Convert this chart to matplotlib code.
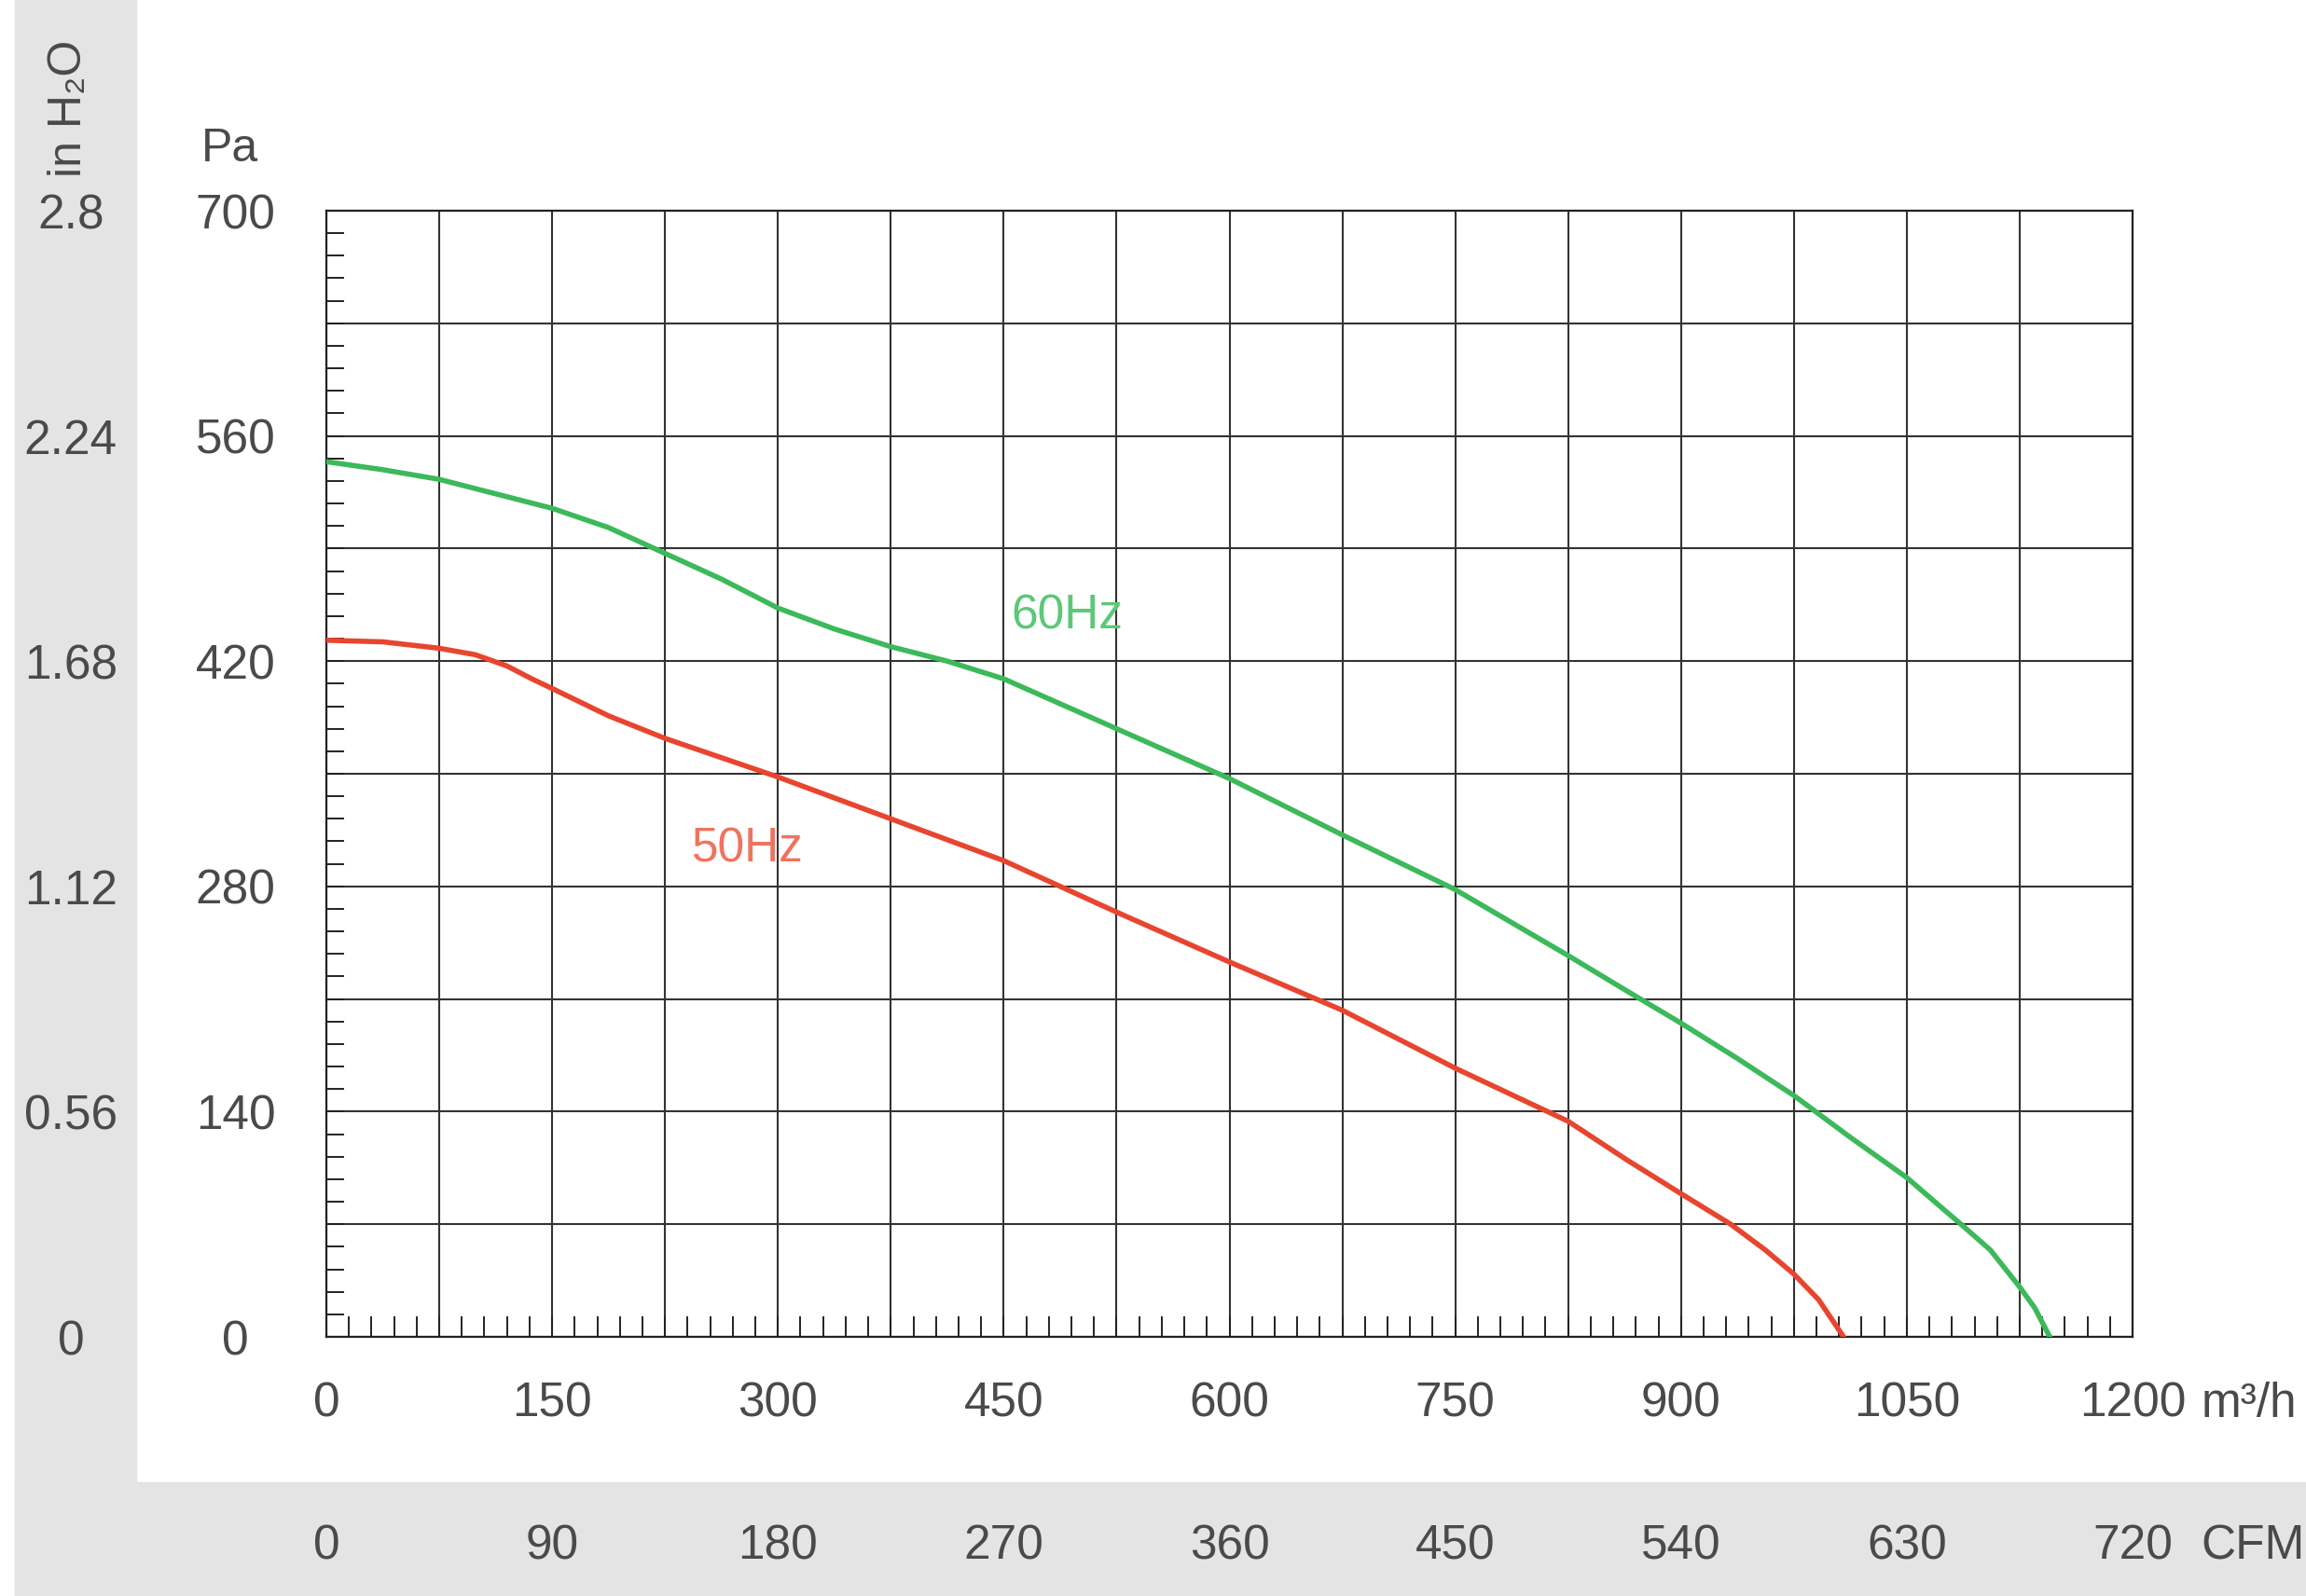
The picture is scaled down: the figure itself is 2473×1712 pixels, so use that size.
import matplotlib
matplotlib.use("Agg")
import matplotlib.pyplot as plt
from matplotlib.patches import Rectangle

# values (m3/h, Pa)
flow_60 = [0, 37.5, 75, 112.5, 150, 187.5, 225, 262.5, 300, 337.5, 375, 412.5, 450, 525, 600,
           675, 750, 825, 864, 900, 937.5, 975, 1012.5, 1050, 1071, 1086, 1105.5, 1125, 1135, 1145]
pa_60 = [544, 539, 533, 524, 515, 503, 487, 471, 453, 440, 429, 420, 409, 378, 347,
         312, 278, 237, 215, 195, 173, 150, 124, 99, 82, 70, 54, 31, 18, 0]
flow_50 = [0, 37.5, 75, 99, 120, 136.5, 150, 187.5, 225, 262.5, 300, 375, 450, 525, 600,
           675, 750, 825, 864, 900, 933, 956, 975, 991.5, 1008]
pa_50 = [433, 432, 428, 424, 417, 409, 403, 386, 372, 360, 348, 322, 296, 264, 233,
         203, 167, 134, 110, 89, 70, 54, 39, 23, 0]

x_grid = list(range(0, 1201, 75))
x_labels = [str(v) if v % 150 == 0 else '' for v in x_grid]
y_grid = list(range(0, 701, 70))
y_labels = [str(v) if v % 140 == 0 else '' for v in y_grid]
cfm_ticks = [0, 90, 180, 270, 360, 450, 540, 630, 720]
h2o_ticks = [0, 0.56, 1.12, 1.68, 2.24, 2.8]
h2o_labels = ['0', '0.56', '1.12', '1.68', '2.24', '2.8']

GREEN = '#3cb95a'
RED = '#e8452f'
TEXT = '#4a4a4a'
GRAY_BG = '#e4e4e4'
FS = 37

plt.rcParams['font.family'] = ['Liberation Sans', 'DejaVu Sans']

W, H = 2473, 1712
fig = plt.figure(figsize=(W / 100, H / 100), dpi=100)
fig.patch.set_facecolor('white')

# grey stippled margins of the scan
fig.add_artist(Rectangle((16 / W, 0), (146 - 16) / W, 1, transform=fig.transFigure,
                         color=GRAY_BG, zorder=0))
fig.add_artist(Rectangle((16 / W, 0), 1, (H - 1590) / H, transform=fig.transFigure,
                         color=GRAY_BG, zorder=0))

left, right, top, bottom = 350, 2287, 226, 1434
ax = fig.add_axes([left / W, (H - bottom) / H, (right - left) / W, (bottom - top) / H])
ax.set_facecolor('white')

ax.plot(flow_60, pa_60, color=GREEN, lw=4, zorder=3, solid_joinstyle='round')
ax.plot(flow_50, pa_50, color=RED, lw=4, zorder=3, solid_joinstyle='round')

ax.text(455, 448, '60Hz', color='#5cc878', fontsize=FS, ha='left', va='center')
ax.text(243, 303, '50Hz', color='#f0735e', fontsize=FS, ha='left', va='center')

ax.set_xlim(0, 1200)
ax.set_ylim(0, 700)
ax.set_xticks(x_grid, labels=x_labels)
ax.set_yticks(y_grid, labels=y_labels)
ax.set_xticks(range(0, 1201, 15), minor=True)
ax.set_yticks(range(0, 701, 14), minor=True)
ax.grid(which='major', color='#333333', lw=1.5)

ax.tick_params(axis='both', which='both', direction='in', color='#222222',
               labelcolor=TEXT, labelsize=FS, width=1.4)
ax.tick_params(axis='x', which='both', length=16, pad=34.5)
ax.tick_params(axis='y', which='both', length=14, pad=70)
plt.setp(ax.get_yticklabels(), ha='center')
for sp in ax.spines.values():
    sp.set_color('#222222')
    sp.set_linewidth(1.6)

# units after the last tick labels
ax.text(1.038, -0.0397, 'm³/h', transform=ax.transAxes, ha='left', va='top',
        fontsize=FS, color=TEXT)
ax.text(1.038, -0.1656, 'CFM', transform=ax.transAxes, ha='left', va='top',
        fontsize=FS, color=TEXT)

# CFM scale underneath
sec_x = ax.secondary_xaxis(-0.1656, functions=(lambda x: x * 3 / 5, lambda c: c * 5 / 3))
sec_x.set_xticks(cfm_ticks)
sec_x.tick_params(length=0, pad=0, labelsize=FS, labelcolor=TEXT)
sec_x.spines['bottom'].set_visible(False)

# inch water column scale on the far left
sec_y = ax.secondary_yaxis(-0.1415, functions=(lambda p: p / 250, lambda h: h * 250))
sec_y.set_yticks(h2o_ticks, labels=h2o_labels)
sec_y.tick_params(length=0, pad=0, labelsize=FS, labelcolor=TEXT)
sec_y.spines['left'].set_visible(False)
plt.setp(sec_y.get_yticklabels(), ha='center')

fig.text(246 / W, 1 - 160 / H, 'Pa', fontsize=36, color=TEXT, ha='center', va='center')
fig.text(74 / W, 1 - 116 / H, 'in H₂O', fontsize=36, color=TEXT, ha='center',
         va='center', rotation=90)

fig.savefig('out.png', dpi=100)
